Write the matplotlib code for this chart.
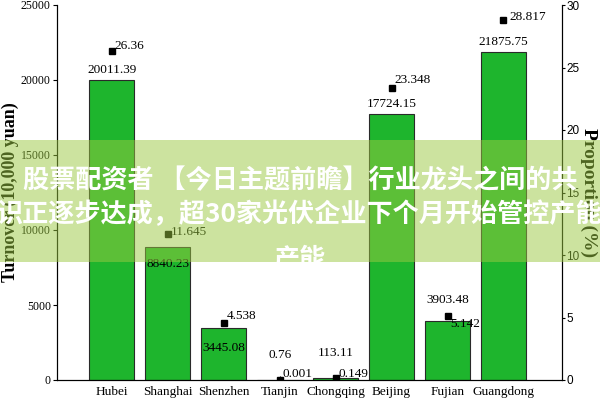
import matplotlib
matplotlib.use('Agg')
import matplotlib.pyplot as plt
from matplotlib.patches import Rectangle

plt.rcParams['font.family'] = ['Liberation Serif', 'DejaVu Serif']

# data
cities = ['Hubei', 'Shanghai', 'Shenzhen', 'Tianjin', 'Chongqing', 'Beijing', 'Fujian', 'Guangdong']
turnover = [20011.39, 8840.23, 3445.08, 0.76, 113.11, 17724.15, 3903.48, 21875.75]
turnover_labels = ['20011.39', '8840.23', '3445.08', '0.76', '113.11', '17724.15', '3903.48', '21875.75']
proportion = [26.36, 11.645, 4.538, 0.001, 0.149, 23.348, 5.142, 28.817]
proportion_labels = ['26.36', '11.645', '4.538', '0.001', '0.149', '23.348', '5.142', '28.817']
left_ticks = [0, 5000, 10000, 15000, 20000, 25000]
right_ticks = [0, 5, 10, 15, 20, 25, 30]
banner_lines = ['股票配资者 【今日主题前瞻】行业龙头之间的共',
                '识正逐步达成，超30家光伏企业下个月开始管控产能',
                '产能']

# label offsets in points (bar label dy, marker label dx/dy)
bar_dy = [3, -12, -14, 14, 14, 3, 11, 3]
pt_dx = [2, 2, 2, 2, 2, 2, 2, 4]
pt_dy = [3, 2, 5, 4, 3, 6, -6, 2]

fig = plt.figure(figsize=(6, 4), dpi=100)
ax = fig.add_axes([0.095, 0.05, 0.842, 0.9375])
x = list(range(len(cities)))
ax.bar(x, turnover, width=0.8, color='#1eb52d', edgecolor='#2a2a2a', linewidth=0.8, zorder=2)
ax.set_xlim(-0.98, 8.05)
ax.set_ylim(0, 25000)
ax.set_yticks(left_ticks)
ax.set_yticklabels([str(t) for t in left_ticks], fontsize=8.5)
ax.set_xticks(x)
ax.set_xticklabels(cities, fontsize=9.5)
ax.tick_params(axis='x', direction='in', length=3, pad=4)
ax.tick_params(axis='y', direction='out', length=3, pad=1.5)
ax.spines['top'].set_visible(False)
ax.set_ylabel('Turnover (10,000 yuan)', fontsize=13, fontweight='bold', labelpad=1)

for xi, v, lab, dy in zip(x, turnover, turnover_labels, bar_dy):
    ax.annotate(lab, (xi, v), xytext=(0, dy), textcoords='offset points',
                ha='center', va='bottom' if dy > 0 else 'center', fontsize=9.5, zorder=5)

ax2 = ax.twinx()
ax2.set_ylim(0, 30)
ax2.set_yticks(right_ticks)
ax2.set_yticklabels([str(t) for t in right_ticks], fontsize=8.5, family='Liberation Sans')
ax2.tick_params(axis='y', direction='out', length=2.5, pad=0.5)
ax2.spines['top'].set_visible(False)
ax2.plot(x, proportion, 's', color='black', markersize=4.5, zorder=4)
ax2.set_ylabel('Proportion (%)', fontsize=14, fontweight='bold', rotation=-90, labelpad=13)
for xi, v, lab, dx, dy in zip(x, proportion, proportion_labels, pt_dx, pt_dy):
    ax2.annotate(lab, (xi, v), xytext=(dx, dy), textcoords='offset points',
                 ha='left', va='center', fontsize=9.5)

# banner overlay
band = Rectangle((0, 1 - 262 / 400), 1, 122 / 400, transform=fig.transFigure,
                 facecolor='#9bc941', alpha=0.5, edgecolor='none', zorder=10)
fig.patches.append(band)
for line, yp in zip(banner_lines, [181, 215, 260]):
    t = fig.text(0.5, 1 - yp / 400, line, ha='center', va='center', color='white',
                 fontsize=18.8, fontweight='bold', family=['Noto Sans CJK SC', 'DejaVu Sans'],
                 zorder=11)
    t.set_clip_path(band)

fig.savefig('out.png', dpi=100)
